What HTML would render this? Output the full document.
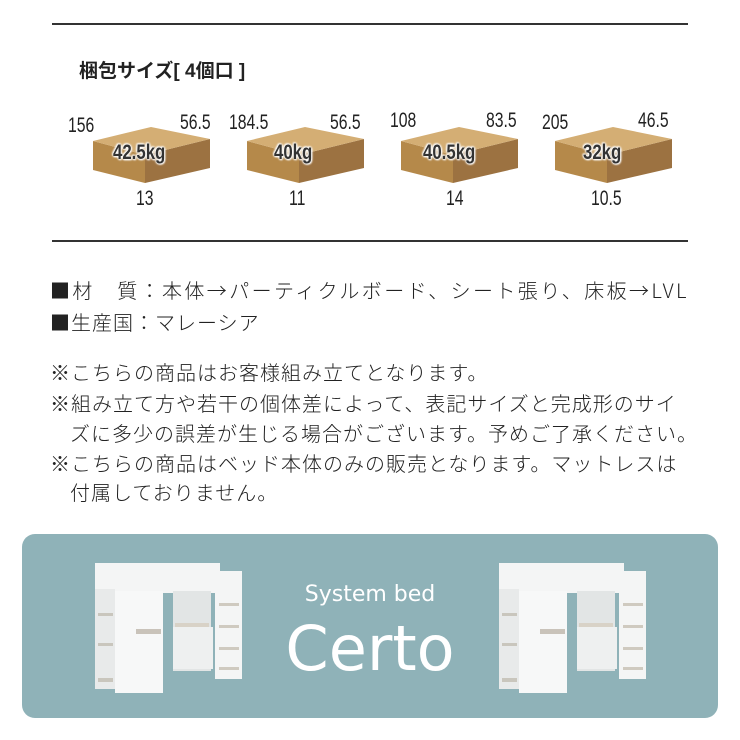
<!DOCTYPE html>
<html><head><meta charset="utf-8"><style>
html,body{margin:0;padding:0;background:#fff;width:740px;height:740px;overflow:hidden;position:relative;font-family:"Liberation Sans","Noto Sans CJK JP",sans-serif;color:#222}
.hr{position:absolute;left:52px;width:636px;height:2px;background:#333}
.t{position:absolute;font-family:"Noto Sans CJK JP",sans-serif;font-size:20px;line-height:24px;white-space:nowrap;font-weight:300;letter-spacing:1px}
.n{position:absolute;font-family:"Liberation Sans",sans-serif;font-size:21px;transform:scaleX(0.75);transform-origin:left top;color:#222}
.kg{position:absolute;font-size:21px;font-weight:bold;color:#333;transform:scaleX(0.8);transform-origin:left top;text-shadow:0 0 3px #fff,0 0 3px #fff,0 0 2px #fff,1px 1px 2px #fff,-1px -1px 2px #fff}
</style></head><body>
<div class="hr" style="top:23px"></div>
<div class="hr" style="top:240px"></div>
<div class="t" style="left:79px;top:60px;font-size:19px;letter-spacing:0;font-weight:bold;font-family:'Liberation Sans','Noto Sans CJK JP',sans-serif">梱包サイズ[ 4個口 ]</div>

<svg width="740" height="740" style="position:absolute;left:0;top:0">
<defs>
<g id="box">
<polygon points="0,14 52,28 52,56 0,43" fill="#b5894a"/>
<polygon points="52,28 117,12 117,41 52,56" fill="#9c7241"/>
<polygon points="0,14 58,0 117,12 52,28" fill="#d4ae74"/>
</g>
<g id="bed">
<rect x="0" y="0" width="125" height="30" fill="#f4f5f5"/>
<rect x="0" y="26" width="20" height="100" fill="#e8eaea"/>
<rect x="3" y="50" width="15" height="3" fill="#c9c6bd"/>
<rect x="3" y="80" width="15" height="3" fill="#c9c6bd"/>
<rect x="3" y="115" width="15" height="4" fill="#c9c6bd"/>
<rect x="20" y="28" width="48" height="102" fill="#f7f8f8"/>
<rect x="41" y="66" width="25" height="5" fill="#c9c3ba"/>
<rect x="78" y="28" width="38" height="80" fill="#e2e5e5"/>
<rect x="80" y="60" width="34" height="4" fill="#d8d2c7"/>
<rect x="78" y="64" width="40" height="42" fill="#eef0f0"/>
<rect x="120" y="8" width="27" height="108" fill="#f4f5f5"/>
<rect x="124" y="40" width="20" height="3" fill="#cfcac0"/>
<rect x="124" y="62" width="20" height="3" fill="#cfcac0"/>
<rect x="124" y="84" width="20" height="3" fill="#cfcac0"/>
<rect x="124" y="104" width="20" height="3" fill="#cfcac0"/>
</g>
</defs>
<use href="#box" x="93" y="127"/>
<use href="#box" x="247" y="127"/>
<use href="#box" x="401" y="127"/>
<use href="#box" x="555" y="127"/>
<rect x="22" y="534" width="696" height="184" rx="13" fill="#8fb2b8"/>
<use href="#bed" x="95" y="563"/>
<use href="#bed" x="499" y="563"/>
<text x="370" y="601" font-family="DejaVu Sans, sans-serif" font-size="22" fill="#fff" text-anchor="middle">System bed</text>
<text x="370" y="670" font-family="DejaVu Sans, sans-serif" font-size="62" fill="#fff" text-anchor="middle">Certo</text>
</svg>

<div class="n" style="left:68px;top:114px">156</div>
<div class="n" style="left:180px;top:111px">56.5</div>
<div class="n" style="left:136px;top:187px">13</div>
<div class="kg" style="left:113px;top:141px">42.5kg</div>

<div class="n" style="left:229px;top:111px">184.5</div>
<div class="n" style="left:330px;top:111px">56.5</div>
<div class="n" style="left:289px;top:187px">11</div>
<div class="kg" style="left:274px;top:141px">40kg</div>

<div class="n" style="left:390px;top:109px">108</div>
<div class="n" style="left:486px;top:109px">83.5</div>
<div class="n" style="left:446px;top:187px">14</div>
<div class="kg" style="left:423px;top:141px">40.5kg</div>

<div class="n" style="left:542px;top:111px">205</div>
<div class="n" style="left:638px;top:109px">46.5</div>
<div class="n" style="left:591px;top:187px">10.5</div>
<div class="kg" style="left:583px;top:141px">32kg</div>

<div class="t" style="left:50px;top:278px;letter-spacing:2.4px">■材　質：本体→パーティクルボード、シート張り、床板→LVL</div>
<div class="t" style="left:50px;top:310px">■生産国：マレーシア</div>
<div class="t" style="left:50px;top:360px">※こちらの商品はお客様組み立てとなります。</div>
<div class="t" style="left:50px;top:391px">※組み立て方や若干の個体差によって、表記サイズと完成形のサイ</div>
<div class="t" style="left:70px;top:421px">ズに多少の誤差が生じる場合がございます。予めご了承ください。</div>
<div class="t" style="left:50px;top:451px">※こちらの商品はベッド本体のみの販売となります。マットレスは</div>
<div class="t" style="left:70px;top:480px">付属しておりません。</div>
</body></html>
